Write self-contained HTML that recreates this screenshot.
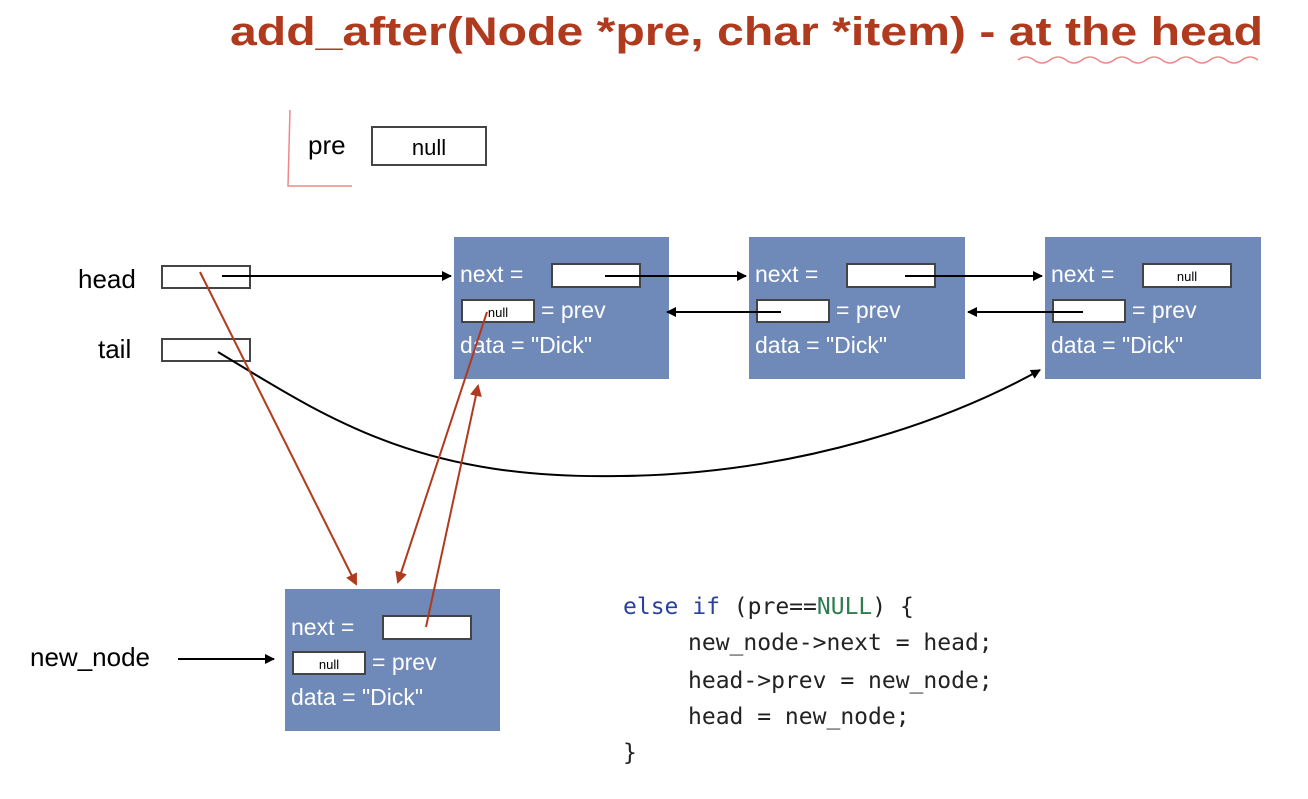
<!DOCTYPE html>
<html><head><meta charset="utf-8"><style>
body{margin:0;background:#fff;}
svg{display:block;}
.t{font-family:"Liberation Sans",sans-serif;}
.w{fill:#fff;font-family:"Liberation Sans",sans-serif;font-size:23px;}
.c{font-family:"DejaVu Sans Mono","Liberation Mono",monospace;font-size:23px;fill:#222;}
</style></head><body>
<svg width="1308" height="799" viewBox="0 0 1308 799" xmlns="http://www.w3.org/2000/svg">
<defs>
<marker id="ab" markerWidth="10" markerHeight="10" refX="9" refY="5" orient="auto" markerUnits="userSpaceOnUse"><path d="M0,0 L10,5 L0,10z" fill="#000"/></marker>
<marker id="ar" markerWidth="12" markerHeight="12" refX="10" refY="6" orient="auto" markerUnits="userSpaceOnUse"><path d="M0,0 L12,6 L0,12z" fill="#b03a1e"/></marker>
</defs>
<text x="230" y="45" class="t" font-size="40" font-weight="bold" fill="#b03a1e" textLength="1033" lengthAdjust="spacingAndGlyphs">add_after(Node *pre, char *item) - at the head</text>
<path d="M1018,60 q8,-6 16,0 t16,0 t16,0 t16,0 t16,0 t16,0 t16,0 t16,0 t16,0 t16,0 t16,0 t16,0 t16,0 t16,0 t16,0" fill="none" stroke="#e88" stroke-width="1.5"/>
<path d="M290,110 L288,186 L352,186" fill="none" stroke="#e88" stroke-width="1.5"/>
<text x="308" y="154" class="t" font-size="26">pre</text>
<rect x="372" y="127" width="114" height="38" fill="#fff" stroke="#444" stroke-width="2"/>
<text x="429" y="155" class="t" font-size="22" text-anchor="middle">null</text>
<text x="78" y="288" class="t" font-size="26">head</text>
<rect x="162" y="266" width="88" height="22" fill="#fff" stroke="#444" stroke-width="2"/>
<text x="98" y="358" class="t" font-size="26">tail</text>
<rect x="162" y="339" width="88" height="22" fill="#fff" stroke="#444" stroke-width="2"/>
<text x="30" y="666" class="t" font-size="26">new_node</text>
<line x1="178" y1="659" x2="274" y2="659" stroke="#000" stroke-width="2" marker-end="url(#ab)"/>

<g>
<rect x="454" y="237" width="215" height="142" fill="#6f89b8"/>
<text x="460" y="282" class="w">next =</text>
<rect x="552" y="264" width="88" height="23" fill="#fff" stroke="#444" stroke-width="2"/>
<rect x="462" y="300" width="72" height="22" fill="#fff" stroke="#444" stroke-width="2"/>
<text x="498" y="317" class="t" font-size="13" text-anchor="middle">null</text>
<text x="541" y="318" class="w">= prev</text>
<text x="460" y="353" class="w">data = "Dick"</text>
</g>
<g>
<rect x="749" y="237" width="216" height="142" fill="#6f89b8"/>
<text x="755" y="282" class="w">next =</text>
<rect x="847" y="264" width="88" height="23" fill="#fff" stroke="#444" stroke-width="2"/>
<rect x="757" y="300" width="72" height="22" fill="#fff" stroke="#444" stroke-width="2"/>
<text x="836" y="318" class="w">= prev</text>
<text x="755" y="353" class="w">data = "Dick"</text>
</g>
<g>
<rect x="1045" y="237" width="216" height="142" fill="#6f89b8"/>
<text x="1051" y="282" class="w">next =</text>
<rect x="1143" y="264" width="88" height="23" fill="#fff" stroke="#444" stroke-width="2"/>
<text x="1187" y="281" class="t" font-size="13" text-anchor="middle">null</text>
<rect x="1053" y="300" width="72" height="22" fill="#fff" stroke="#444" stroke-width="2"/>
<text x="1132" y="318" class="w">= prev</text>
<text x="1051" y="353" class="w">data = "Dick"</text>
</g>
<g>
<rect x="285" y="589" width="215" height="142" fill="#6f89b8"/>
<text x="291" y="635" class="w">next =</text>
<rect x="383" y="616" width="88" height="23" fill="#fff" stroke="#444" stroke-width="2"/>
<rect x="293" y="652" width="72" height="22" fill="#fff" stroke="#444" stroke-width="2"/>
<text x="329" y="669" class="t" font-size="13" text-anchor="middle">null</text>
<text x="372" y="670" class="w">= prev</text>
<text x="291" y="705" class="w">data = "Dick"</text>
</g>

<line x1="222" y1="276" x2="451" y2="276" stroke="#000" stroke-width="2" marker-end="url(#ab)"/>
<line x1="605" y1="276" x2="746" y2="276" stroke="#000" stroke-width="2" marker-end="url(#ab)"/>
<line x1="905" y1="276" x2="1042" y2="276" stroke="#000" stroke-width="2" marker-end="url(#ab)"/>
<line x1="781" y1="312" x2="667" y2="312" stroke="#000" stroke-width="2" marker-end="url(#ab)"/>
<line x1="1083" y1="312" x2="968" y2="312" stroke="#000" stroke-width="2" marker-end="url(#ab)"/>
<path d="M218,352 C330,420 420,480 620,476 C800,474 950,420 1040,370" fill="none" stroke="#000" stroke-width="2" marker-end="url(#ab)"/>

<line x1="200" y1="272" x2="356" y2="584" stroke="#b03a1e" stroke-width="2" marker-end="url(#ar)"/>
<line x1="487" y1="312" x2="398" y2="582" stroke="#b03a1e" stroke-width="2" marker-end="url(#ar)"/>
<line x1="426" y1="627" x2="478" y2="386" stroke="#b03a1e" stroke-width="2" marker-end="url(#ar)"/>

<text x="623" y="614" class="c"><tspan fill="#2a3fa0">else if</tspan> (pre==<tspan fill="#2e7d4f">NULL</tspan>) {</text>
<text x="688" y="650" class="c">new_node-&gt;next = head;</text>
<text x="688" y="688" class="c">head-&gt;prev = new_node;</text>
<text x="688" y="724" class="c">head = new_node;</text>
<text x="623" y="760" class="c">}</text>
</svg>
</body></html>
